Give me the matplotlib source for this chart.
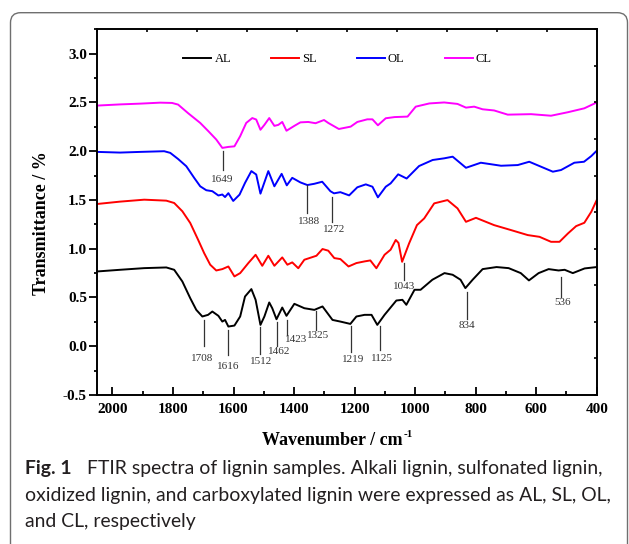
import numpy as np
import matplotlib
matplotlib.use('Agg')
import matplotlib.pyplot as plt
from matplotlib.patches import FancyBboxPatch
from matplotlib.transforms import IdentityTransform
from matplotlib.ticker import MultipleLocator, FormatStrFormatter

plt.rcParams['font.family'] = ['Liberation Serif', 'DejaVu Serif']
plt.rcParams['axes.unicode_minus'] = False

# FTIR spectra (wavenumber / cm-1, transmittance offset)
al_x = [2050, 1975, 1895, 1822, 1796, 1769, 1743, 1723, 1703, 1684,
        1670, 1650, 1637, 1628, 1617, 1597, 1578, 1562, 1541, 1527,
        1511, 1498, 1482, 1472, 1458, 1439, 1425, 1399, 1366, 1333,
        1306, 1273, 1247, 1214, 1194, 1167, 1144, 1125, 1101, 1062,
        1042, 1029, 1002, 982, 943, 903, 876, 850, 834, 810,
        777, 731, 691, 651, 624, 592, 559, 526, 506, 479, 440, 400]
al_y = [0.767, 0.784, 0.801, 0.808, 0.784, 0.664, 0.493, 0.373, 0.305, 0.322,
        0.356, 0.312, 0.253, 0.27, 0.202, 0.212, 0.305, 0.51, 0.586, 0.476,
        0.219, 0.305, 0.449, 0.39, 0.277, 0.397, 0.312, 0.435, 0.39, 0.373,
        0.408, 0.27, 0.253, 0.229, 0.305, 0.322, 0.322, 0.219, 0.322, 0.469,
        0.476, 0.425, 0.579, 0.579, 0.682, 0.75, 0.733, 0.682, 0.596, 0.682,
        0.791, 0.812, 0.801, 0.75, 0.675, 0.75, 0.791, 0.777, 0.784, 0.75, 0.798, 0.812]

sl_x = [2050, 1975, 1895, 1822, 1796, 1769, 1743, 1717, 1697, 1677,
        1657, 1637, 1617, 1597, 1578, 1551, 1527, 1505, 1485, 1465,
        1439, 1422, 1406, 1386, 1366, 1326, 1306, 1287, 1267, 1247,
        1220, 1194, 1167, 1148, 1128, 1101, 1081, 1064, 1055, 1043,
        1020, 994, 970, 937, 893, 860, 832, 799, 739, 683,
        628, 589, 551, 523, 495, 468, 441, 418, 400]
sl_y = [1.459, 1.483, 1.503, 1.493, 1.469, 1.384, 1.264, 1.092, 0.955, 0.836,
        0.777, 0.791, 0.818, 0.716, 0.75, 0.853, 0.938, 0.825, 0.928, 0.825,
        0.911, 0.836, 0.86, 0.80, 0.887, 0.928, 0.997, 0.98, 0.904, 0.894,
        0.818, 0.853, 0.87, 0.88, 0.80, 0.938, 0.99, 1.09, 1.06, 0.866,
        1.054, 1.242, 1.311, 1.465, 1.499, 1.414, 1.276, 1.317, 1.242, 1.191,
        1.14, 1.122, 1.071, 1.071, 1.157, 1.232, 1.266, 1.379, 1.499]

ol_x = [2050, 1975, 1908, 1829, 1809, 1783, 1756, 1730, 1710, 1690,
        1670, 1650, 1637, 1628, 1617, 1601, 1580, 1562, 1541, 1525,
        1511, 1485, 1465, 1441, 1424, 1406, 1379, 1356, 1333, 1307,
        1280, 1268, 1247, 1218, 1191, 1163, 1141, 1123, 1097, 1081,
        1056, 1028, 987, 942, 904, 876, 832, 783, 716, 661,
        623, 584, 545, 518, 474, 442, 418, 400]
ol_y = [1.993, 1.986, 1.993, 2.0, 1.983, 1.92, 1.846, 1.727, 1.64, 1.60,
        1.59, 1.546, 1.556, 1.53, 1.57, 1.49, 1.555, 1.675, 1.796, 1.761,
        1.565, 1.796, 1.64, 1.768, 1.65, 1.727, 1.68, 1.653, 1.666, 1.687,
        1.59, 1.568, 1.58, 1.547, 1.63, 1.66, 1.636, 1.527, 1.636, 1.67,
        1.763, 1.72, 1.848, 1.91, 1.927, 1.944, 1.83, 1.882, 1.851, 1.858,
        1.892, 1.841, 1.79, 1.807, 1.882, 1.892, 1.95, 2.005]

cl_x = [2050, 1975, 1908, 1842, 1803, 1783, 1750, 1710, 1683, 1657,
        1637, 1617, 1597, 1578, 1558, 1538, 1525, 1511, 1498, 1482,
        1465, 1452, 1439, 1425, 1399, 1379, 1353, 1329, 1301, 1287,
        1252, 1213, 1191, 1158, 1141, 1123, 1097, 1068, 1025, 998,
        953, 904, 860, 832, 805, 777, 739, 694, 617, 551,
        495, 441, 400]
cl_y = [2.468, 2.48, 2.488, 2.498, 2.495, 2.478, 2.39, 2.29, 2.205, 2.12,
        2.034, 2.044, 2.05, 2.154, 2.29, 2.34, 2.325, 2.22, 2.27, 2.34,
        2.26, 2.27, 2.30, 2.21, 2.26, 2.296, 2.30, 2.287, 2.32, 2.29,
        2.228, 2.252, 2.30, 2.327, 2.327, 2.266, 2.338, 2.35, 2.355, 2.457,
        2.49, 2.50, 2.485, 2.447, 2.457, 2.43, 2.418, 2.375, 2.38, 2.364,
        2.40, 2.44, 2.50]

series_names = ['AL', 'SL', 'OL', 'CL']
series_colors = ['black', 'red', 'blue', 'magenta']

# peak markers: line x, line top, line bottom, label x, label y, label
peak_x = [1699, 1619, 1511, 1456, 1423, 1326, 1213, 1116, 830, 518, 1038, 1357, 1274, 1634]
peak_top = [0.267, 0.17, 0.198, 0.25, 0.274, 0.362, 0.205, 0.205, 0.557, 0.712, 0.849, 1.653, 1.533, 2.0]
peak_bot = [0.0, -0.092, -0.075, 0.0, 0.113, 0.171, -0.058, -0.041, 0.284, 0.506, 0.678, 1.362, 1.276, 1.812]
label_x = [1704, 1616, 1509, 1449, 1393, 1320, 1204, 1111, 830, 512, 1038, 1351, 1268, 1637]
label_y = [-0.127, -0.212, -0.161, -0.058, 0.072, 0.113, -0.137, -0.127, 0.216, 0.449, 0.609, 1.276, 1.198, 1.71]
peak_labels = ['1708', '1616', '1512', '1462', '1423', '1325', '1219', '1125',
               '834', '536', '1043', '1388', '1272', '1649']

caption = ['FTIR spectra of lignin samples. Alkali lignin, sulfonated lignin,',
           'oxidized lignin, and carboxylated lignin were expressed as AL, SL, OL,',
           'and CL, respectively']

fig = plt.figure(figsize=(6.29, 5.44), dpi=100)
ax = fig.add_axes([0.1547, 0.2739, 0.7940, 0.6722])

for xs, ys, name, c in zip([al_x, sl_x, ol_x, cl_x], [al_y, sl_y, ol_y, cl_y],
                           series_names, series_colors):
    ax.plot(xs, ys, color=c, lw=1.4, label=name)

for px, t, b, lx, ly, lab in zip(peak_x, peak_top, peak_bot, label_x, label_y, peak_labels):
    ax.plot([px, px], [t, b], color='#333333', lw=0.9)
    ax.text(lx, ly, lab, ha='center', va='center', fontsize=8, color='#333333')

ax.set_xlim(2050, 400)
ax.set_ylim(-0.5, 3.25)
ax.xaxis.set_major_locator(MultipleLocator(200))
ax.xaxis.set_minor_locator(MultipleLocator(100))
ax.yaxis.set_major_locator(MultipleLocator(0.5))
ax.yaxis.set_minor_locator(MultipleLocator(0.25))
ax.yaxis.set_major_formatter(FormatStrFormatter('%.1f'))
ax.tick_params(axis='x', which='major', direction='in', length=5.5, width=1.3, pad=6)
ax.tick_params(axis='x', which='minor', direction='in', length=3, width=1.3)
ax.tick_params(axis='y', which='major', direction='out', length=5.5, width=1.3, pad=2)
ax.tick_params(axis='y', which='minor', direction='out', length=2.5, width=1.3)
for lab in ax.get_xticklabels() + ax.get_yticklabels():
    lab.set_fontweight('bold')
    lab.set_fontsize(11)
for s in ax.spines.values():
    s.set_linewidth(1.4)

ax.set_xlabel('Wavenumber / cm', fontsize=13, fontweight='bold')
ax.xaxis.set_label_coords(0.47, -0.101)
ax.annotate('-1', xy=(1, 1), xycoords=ax.xaxis.label, xytext=(0.8, 1.5),
            textcoords='offset points', fontsize=8, fontweight='bold', va='top', ha='left')
ax.set_ylabel('Transmittance / %', fontsize=13, fontweight='bold')
ax.yaxis.set_label_coords(-0.0947, 0.469)

ax.legend(loc='center', bbox_to_anchor=(0.481, 0.919), ncol=4, frameon=False,
          fontsize=9, handlelength=2.24, handletextpad=0.25, columnspacing=3.2)

# top and right axes carry plain divider ticks
ax2 = fig.add_axes(ax.get_position(), frameon=False)
ax2.set_xlim(0, 1)
ax2.set_ylim(0, 1)
ax2.xaxis.tick_top()
ax2.yaxis.tick_right()
ax2.set_xticks(np.linspace(0, 1, 11))
ax2.set_yticks(np.linspace(0, 1, 11))
ax2.tick_params(direction='in', length=2.5, width=1.2, labeltop=False, labelright=False)
ax2.patch.set_visible(False)

# rounded figure frame, open at the bottom edge
box = FancyBboxPatch((10.5, -20), 617, 551.3, boxstyle='round,pad=0,rounding_size=10',
                     transform=IdentityTransform(), fill=False, ec='#6f6f6f', lw=1.0)
fig.add_artist(box)

cap_font = ['Lato', 'DejaVu Sans']
cap_color = '#231f20'
t_fig = fig.text(25 / 629, 1 - 474.3 / 544, 'Fig. 1', family=cap_font,
                 fontweight='bold', color=cap_color, va='baseline')
t1 = fig.text(87 / 629, 1 - 474.3 / 544, caption[0], family=cap_font, color=cap_color, va='baseline')
t2 = fig.text(25 / 629, 1 - 500.5 / 544, caption[1], family=cap_font, color=cap_color, va='baseline')
t3 = fig.text(25 / 629, 1 - 526.5 / 544, caption[2], family=cap_font, color=cap_color, va='baseline')

# size the caption so the second line spans the same width as in the figure
t2.set_fontsize(12)
fig.canvas.draw()
w = t2.get_window_extent(fig.canvas.get_renderer()).width
cap_size = 12 * 582 / w
for t in (t_fig, t1, t2, t3):
    t.set_fontsize(cap_size)

fig.savefig('out.png', dpi=100)
